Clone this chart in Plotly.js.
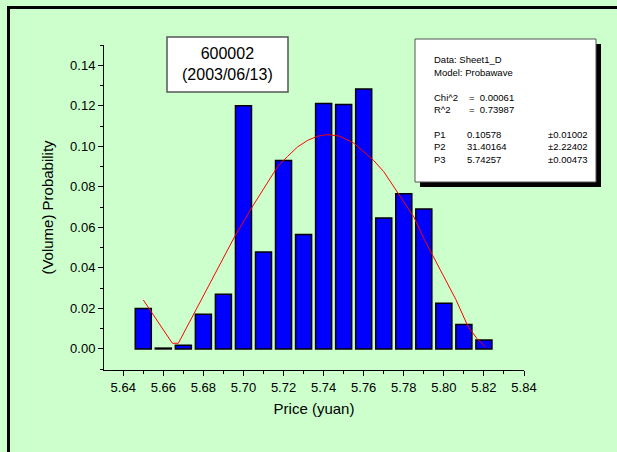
<!DOCTYPE html>
<html>
<head>
<meta charset="utf-8">
<script src="https://cdn.plot.ly/plotly-3.0.1.min.js"></script>
<style>html,body{margin:0;padding:0;background:#CCFFCC;overflow:hidden;}#chart{width:617px;height:452px;}</style>
</head>
<body>
<div id="chart"></div>
<script>
// Histogram bars (price bins, probability)
const prices = [5.65, 5.66, 5.67, 5.68, 5.69, 5.70, 5.71, 5.72, 5.73, 5.74, 5.75, 5.76, 5.77, 5.78, 5.79, 5.80, 5.81, 5.82];
const probability = [0.0200, 0.0004, 0.0018, 0.0171, 0.0270, 0.1200, 0.0478, 0.0930, 0.0565, 0.1211, 0.1206, 0.1283, 0.0646, 0.0766, 0.0690, 0.0225, 0.0120, 0.0044];

// Fitted curve
const fitX = [5.650, 5.655, 5.660, 5.6645, 5.6675, 5.672, 5.678, 5.684, 5.690, 5.696, 5.705, 5.712, 5.717, 5.722, 5.727, 5.732, 5.737, 5.742, 5.748, 5.755, 5.760, 5.765, 5.770, 5.778, 5.785, 5.790, 5.794, 5.800, 5.806, 5.812, 5.8164, 5.8206];
const fitY = [0.0242, 0.0170, 0.0095, 0.0028, 0.0028, 0.0113, 0.0225, 0.0340, 0.0448, 0.0562, 0.0711, 0.0823, 0.0899, 0.0950, 0.0997, 0.1029, 0.1050, 0.1058, 0.1050, 0.1016, 0.0975, 0.0930, 0.0875, 0.0757, 0.0652, 0.0545, 0.0470, 0.0357, 0.0244, 0.0112, 0.0053, 0.0011];

// Text
const titleLines = ["600002", "(2003/06/13)"];
const statsLabels = ["Data: Sheet1_D", "Model: Probawave", "", "Chi^2", "R^2", "", "P1", "P2", "P3"];
const statsValues = ["", "", "", "=  0.00061", "=  0.73987", "", "0.10578", "31.40164", "5.74257"];
const statsErrors = ["", "", "", "", "", "", "±0.01002", "±2.22402", "±0.00473"];

const W = 617, H = 452;
const L = 104, R = 93, T = 45, B = 82;
const pw = W - L - R, ph = H - T - B;
const px = x => (x - L) / pw;
const py = y => (H - B - y) / ph;

const font = "Liberation Sans, Arial, sans-serif";

const traces = [
  {
    type: 'bar', x: prices, y: probability, width: 0.008,
    marker: {color: '#0000FF', line: {color: '#000000', width: 1.5}},
    hoverinfo: 'x+y'
  },
  {
    type: 'scatter', mode: 'lines', x: fitX, y: fitY,
    line: {color: '#FF0000', width: 1}
  }
];

const annotations = [];
annotations.push({
  xref: 'paper', yref: 'paper', x: px(227.5), y: py(64), xanchor: 'center', yanchor: 'middle',
  text: titleLines.join('<br>'), showarrow: false, align: 'center',
  font: {family: font, size: 16, color: '#000'}
});
const lineY0 = 60, lineH = 12.4;
for (let i = 0; i < statsLabels.length; i++) {
  const yy = lineY0 + i * lineH;
  if (statsLabels[i]) annotations.push({xref:'paper', yref:'paper', x: px(432), y: py(yy), xanchor:'left', yanchor:'middle', text: statsLabels[i], showarrow:false, font:{family:font, size:9.5, color:'#000'}});
  if (statsValues[i]) annotations.push({xref:'paper', yref:'paper', x: px(i < 6 ? 467 : 465), y: py(yy), xanchor:'left', yanchor:'middle', text: statsValues[i], showarrow:false, font:{family:font, size:9.5, color:'#000'}});
  if (statsErrors[i]) annotations.push({xref:'paper', yref:'paper', x: px(546), y: py(yy), xanchor:'left', yanchor:'middle', text: statsErrors[i], showarrow:false, font:{family:font, size:9.5, color:'#000'}});
}

const shapes = [
  // outer frame (left and top edges visible)
  {type:'line', xref:'paper', yref:'paper', x0: px(8.5), x1: px(8.5), y0: py(6), y1: py(460), line:{color:'#000', width:3}, layer:'below'},
  {type:'line', xref:'paper', yref:'paper', x0: px(7), x1: px(617), y0: py(7.5), y1: py(7.5), line:{color:'#000', width:3}, layer:'below'},
  // cover strip at the right edge
  {type:'rect', xref:'paper', yref:'paper', x0: px(603), x1: px(630), y0: py(460), y1: py(9.5), fillcolor:'#CCFFCC', line:{width:0}, layer:'above'},
  // title box
  {type:'rect', xref:'paper', yref:'paper', x0: px(167), x1: px(288), y0: py(92), y1: py(37), fillcolor:'#FFFFFF', line:{color:'#555555', width:1.5}},
  // stats box shadow
  {type:'rect', xref:'paper', yref:'paper', x0: px(420), x1: px(601), y0: py(187), y1: py(44), fillcolor:'#000000', line:{width:0}},
  // stats box
  {type:'rect', xref:'paper', yref:'paper', x0: px(415), x1: px(596), y0: py(182), y1: py(39), fillcolor:'#FFFFFF', line:{color:'#555555', width:1}}
];

const axisCommon = {
  showgrid: false, zeroline: false, showline: true, linecolor: '#000', linewidth: 1,
  ticks: 'outside', ticklen: 5, tickwidth: 1, tickcolor: '#000',
  tickfont: {family: font, size: 13, color: '#000'}, mirror: false
};

const layout = {
  width: W, height: H,
  margin: {l: L, r: R, t: T, b: B, pad: 0},
  paper_bgcolor: '#CCFFCC', plot_bgcolor: '#CCFFCC',
  showlegend: false,
  xaxis: Object.assign({}, axisCommon, {
    range: [5.6304, 5.84], tickmode: 'linear', tick0: 5.64, dtick: 0.02, tickformat: '.2f',
    minor: {dtick: 0.01, tick0: 5.63, ticklen: 3, tickcolor: '#000', ticks: 'outside', showgrid: false},
    title: {text: 'Price (yuan)', font: {family: font, size: 15, color: '#000'}, standoff: 9}
  }),
  yaxis: Object.assign({}, axisCommon, {
    range: [-0.0104, 0.15], tickmode: 'linear', tick0: 0, dtick: 0.02, tickformat: '.2f',
    minor: {dtick: 0.01, tick0: 0, ticklen: 3, tickcolor: '#000', ticks: 'outside', showgrid: false},
    title: {text: '(Volume) Probability', font: {family: font, size: 15, color: '#000'}, standoff: 12}
  }),
  annotations: annotations,
  shapes: shapes,
  bargap: 0
};

Plotly.newPlot('chart', traces, layout, {displayModeBar: false, staticPlot: true});
</script>
</body>
</html>
